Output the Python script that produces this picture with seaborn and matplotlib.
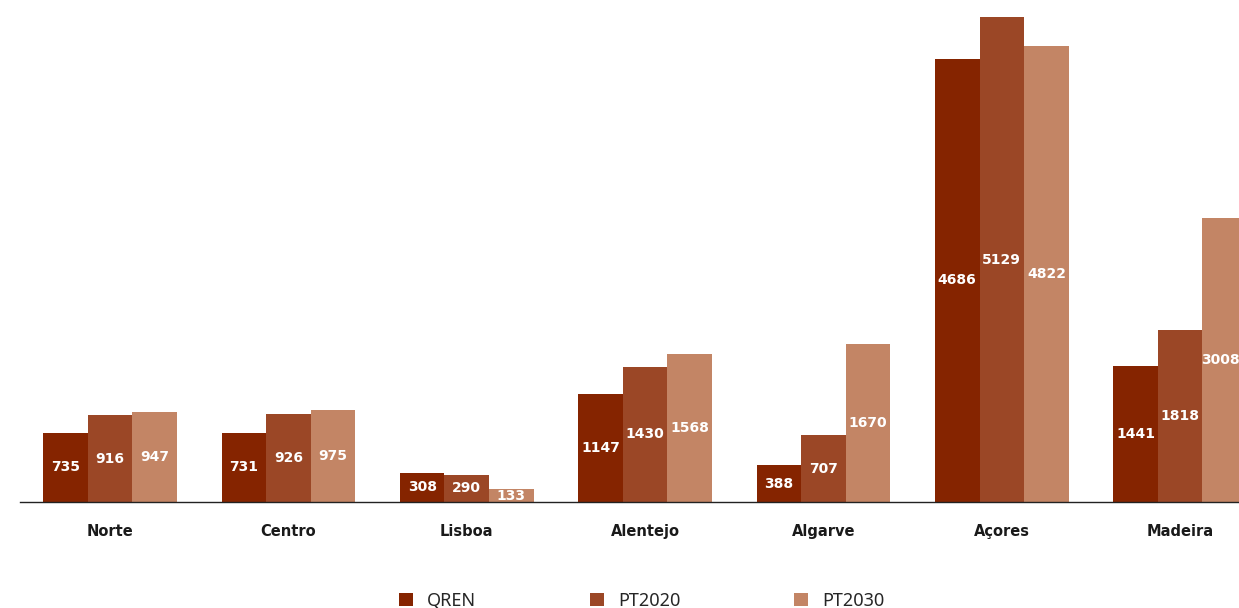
import numpy as np
import pandas as pd
import matplotlib.pyplot as plt
import seaborn as sns

# Chart data
regions = ['Norte', 'Centro', 'Lisboa', 'Alentejo', 'Algarve', 'Açores', 'Madeira']
series = ['QREN', 'PT2020', 'PT2030']
qren = [735, 731, 308, 1147, 388, 4686, 1441]
pt2020 = [916, 926, 290, 1430, 707, 5129, 1818]
pt2030 = [947, 975, 133, 1568, 1670, 4822, 3008]
colors = ['#852400', '#9b4726', '#c38565']

df = pd.DataFrame({
    'Regiao': regions * 3,
    'Programa': [s for s in series for _ in regions],
    'Valor': qren + pt2020 + pt2030,
})

sns.set_theme(style='white')
plt.rcParams['font.family'] = ['Noto Sans', 'DejaVu Sans']

fig = plt.figure(figsize=(12.39, 6.08), dpi=100)
ax = fig.add_axes([20 / 1239, 1 - 502 / 608, 1 - 20 / 1239, 502 / 608])

sns.barplot(data=df, x='Regiao', y='Valor', hue='Programa', hue_order=series,
            palette=colors, saturation=1, width=0.75, linewidth=0, ax=ax)

# white bold value labels in the middle of each bar
for cont in ax.containers:
    ax.bar_label(cont, labels=[f'{int(v)}' for v in cont.datavalues],
                 label_type='center', color='white', fontsize=10,
                 fontweight='bold', family='DejaVu Sans')

ax.set_xlim(-0.505, 6.33)
ax.set_ylim(0, 5309)
ax.set_xlabel('')
ax.set_ylabel('')
ax.set_yticks([])
ax.tick_params(axis='x', length=0, pad=16)
for lbl in ax.get_xticklabels():
    lbl.set_fontweight('bold')
    lbl.set_family('DejaVu Sans')
    lbl.set_fontsize(10.5)
    lbl.set_color('#1a1a1a')

for s in ['top', 'right', 'left']:
    ax.spines[s].set_visible(False)
ax.spines['bottom'].set_color('#222222')
ax.spines['bottom'].set_linewidth(1.0)

handles, labels = ax.get_legend_handles_labels()
ax.get_legend().remove()
fig.legend(handles, labels, loc='center', bbox_to_anchor=(0.518, 0.012),
           ncol=3, frameon=False, fontsize=13, handlelength=0.75,
           handleheight=0.75, handletextpad=0.8, columnspacing=6.3)

fig.savefig('out.png', dpi=100)
